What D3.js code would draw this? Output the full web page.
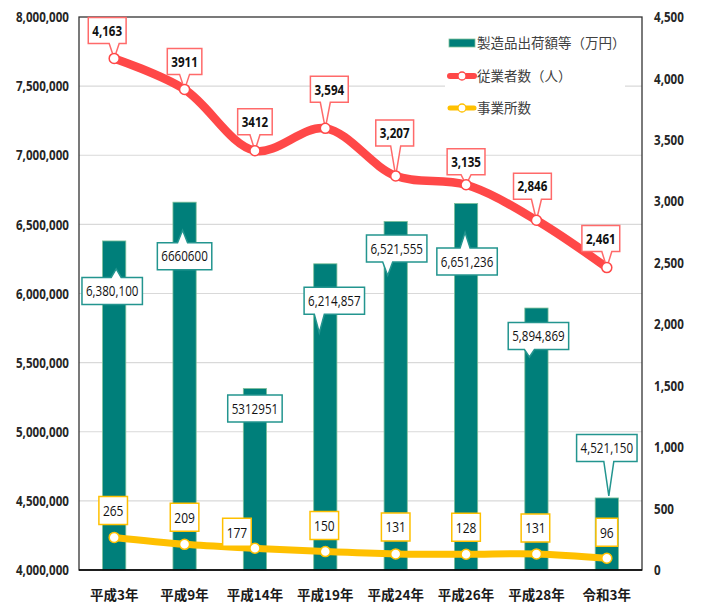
<!DOCTYPE html>
<html>
<head>
<meta charset="utf-8">
<script src="https://cdn.jsdelivr.net/npm/d3@7"></script>
<style>
  body { margin: 0; background: #fff; }
  svg { display: block; }
  .num { font-family: "Liberation Sans Narrow", "Open Sans", "Noto Sans", sans-serif; }
  .jp { font-family: "Noto Sans CJK JP", "Noto Sans CJK SC", sans-serif; }
</style>
</head>
<body>
<svg id="chart" width="711" height="606"></svg>
<script>
// data
const categories = ['平成3年', '平成9年', '平成14年', '平成19年', '平成24年', '平成26年', '平成28年', '令和3年'];
const shipments = [6380100, 6660600, 5312951, 6214857, 6521555, 6651236, 5894869, 4521150];
const shipmentLabels = ['6,380,100', '6660600', '5312951', '6,214,857', '6,521,555', '6,651,236', '5,894,869', '4,521,150'];
const employees = [4163, 3911, 3412, 3594, 3207, 3135, 2846, 2461];
const employeeLabels = ['4,163', '3911', '3412', '3,594', '3,207', '3,135', '2,846', '2,461'];
const establishments = [265, 209, 177, 150, 131, 128, 131, 96];
const leftTicks = d3.range(4000000, 8000001, 500000);
const rightTicks = d3.range(0, 4501, 500);
const seriesNames = ['製造品出荷額等（万円）', '従業者数（人）', '事業所数'];

// callout placement (box centre offset from the data point, then pointer tip offset)
const shipCallout = [[-2, 50, 2, 28], [0, 54, -2, 28], [0, 20, null, null], [9, 37, -6, 69],
                     [1, 27, -8, 54], [1, 58, -1, 29], [2, 28, -7, 49], [0, -50, 2, -2]];
const empCallout = [[-7, -28], [0, -28], [0, -29], [4, -39], [-1, -43], [0, -23], [-4, -34], [-6, -29]];
const estCallout = [[-1, -27], [0, -27], [-18, -16], [-1, -26], [0, -27], [0, -27], [-1, -26], [0, -26]];

const teal = '#007F7A', red = '#FF4848', gold = '#FFC000';
const m = {left: 79, right: 642, top: 17, bottom: 570};

const svg = d3.select('#chart');

// squeeze numbers to look like the narrow office font
function condense(sel, k) {
  sel.each(function () {
    const w = this.getComputedTextLength();
    d3.select(this).attr('textLength', w * k).attr('lengthAdjust', 'spacingAndGlyphs');
  });
}

const x = d3.scaleBand().domain(categories).range([m.left, m.right])
  .paddingInner(0.67).paddingOuter(0.335);
const cx = c => x(c) + x.bandwidth() / 2;
const yL = d3.scaleLinear().domain([4000000, 8000000]).range([m.bottom, m.top]);
const yR = d3.scaleLinear().domain([0, 4500]).range([m.bottom, m.top]);

// gridlines
svg.append('g').selectAll('line').data(leftTicks.slice(1, -1)).join('line')
  .attr('x1', m.left).attr('x2', m.right)
  .attr('y1', d => yL(d)).attr('y2', d => yL(d))
  .attr('stroke', '#D9D9D9').attr('stroke-width', 1.2);

// bars
svg.append('g').selectAll('rect').data(shipments).join('rect')
  .attr('x', (d, i) => x(categories[i]))
  .attr('width', x.bandwidth())
  .attr('y', d => yL(d))
  .attr('height', d => yL(4000000) - yL(d))
  .attr('fill', teal)
  .attr('stroke', '#7FC09A').attr('stroke-width', 0.8);

// legend background (covers the gridline)
const lg = svg.append('g');
lg.append('rect').attr('x', 445).attr('y', 28).attr('width', 180).attr('height', 97).attr('fill', '#fff');

// frame
svg.append('rect').attr('x', m.left).attr('y', m.top)
  .attr('width', m.right - m.left).attr('height', m.bottom - m.top)
  .attr('fill', 'none').attr('stroke', '#333').attr('stroke-width', 1.3);
svg.append('line').attr('x1', m.left).attr('x2', m.right).attr('y1', m.bottom).attr('y2', m.bottom)
  .attr('stroke', '#000').attr('stroke-width', 1.5);

// axes
const axL = svg.append('g').attr('transform', `translate(${m.left},0)`)
  .call(d3.axisLeft(yL).tickValues(leftTicks).tickSize(0).tickPadding(10).tickFormat(d3.format(',')));
const axR = svg.append('g').attr('transform', `translate(${m.right},0)`)
  .call(d3.axisRight(yR).tickValues(rightTicks).tickSize(0).tickPadding(12).tickFormat(d3.format(',')));
const axB = svg.append('g').attr('transform', `translate(0,${m.bottom})`)
  .call(d3.axisBottom(x).tickSize(0).tickPadding(20));
[axL, axR, axB].forEach(a => a.select('.domain').remove());
[axL, axR].forEach(a => a.selectAll('text').attr('class', 'num')
  .style('font-size', '14.5px').style('font-weight', 'bold').attr('fill', '#262626')
  .call(condense, 0.8));
axB.selectAll('text').attr('class', 'jp')
  .style('font-size', '13.5px').style('font-weight', 'bold').attr('fill', '#1a1a1a');

// lines
const line = yS => d3.line().x((d, i) => cx(categories[i])).y(d => yS(d)).curve(d3.curveCatmullRom.alpha(0.5));
svg.append('path').datum(establishments).attr('d', line(yR))
  .attr('fill', 'none').attr('stroke', gold).attr('stroke-width', 7).attr('stroke-linecap', 'round');
svg.append('path').datum(employees).attr('d', line(yR))
  .attr('fill', 'none').attr('stroke', red).attr('stroke-width', 8.5).attr('stroke-linecap', 'round');

// callout helper: box centred at (bx,by), pointer to (tx,ty)
function callout(g, bx, by, txt, opt) {
  const t = g.append('text').attr('class', 'num').text(txt)
    .style('font-size', opt.size).style('font-weight', opt.weight).attr('fill', '#111')
    .attr('x', bx).attr('y', by).attr('text-anchor', 'middle').attr('dy', '0.36em');
  const tw = t.node().getComputedTextLength() * 0.8;
  t.attr('textLength', tw).attr('lengthAdjust', 'spacingAndGlyphs');
  const w = tw + opt.pad * 2, h = opt.h;
  const l = bx - w / 2, r = bx + w / 2, top = by - h / 2, bot = by + h / 2;
  let p;
  if (opt.tx == null) {
    p = `M${l},${top}H${r}V${bot}H${l}Z`;
  } else {
    const c = Math.max(l + 6, Math.min(r - 6, opt.tx));
    if (opt.ty > by) {
      p = `M${l},${top}H${r}V${bot}H${c + 5}L${opt.tx},${opt.ty}L${c - 5},${bot}H${l}Z`;
    } else {
      p = `M${l},${top}H${c - 5}L${opt.tx},${opt.ty}L${c + 5},${top}H${r}V${bot}H${l}Z`;
    }
  }
  g.insert('path', 'text').attr('d', p).attr('fill', '#fff')
    .attr('stroke', opt.stroke).attr('stroke-width', 1.5);
}

const labels = svg.append('g');
shipments.forEach((v, i) => {
  const px = cx(categories[i]), py = yL(v), o = shipCallout[i];
  const g = labels.append('g');
  callout(g, px + o[0], py + o[1], shipmentLabels[i], {size: '14.5px', weight: 'normal', pad: 4, h: 27,
    stroke: '#23958F', tx: o[2] == null ? null : px + o[2], ty: o[3] == null ? null : py + o[3]});
});
employees.forEach((v, i) => {
  const px = cx(categories[i]), py = yR(v), o = empCallout[i];
  const g = labels.append('g');
  callout(g, px + o[0], py + o[1], employeeLabels[i], {size: '14.5px', weight: 'bold', pad: 4, h: 26,
    stroke: '#FF6A6A', tx: px, ty: py});
});
establishments.forEach((v, i) => {
  const px = cx(categories[i]), py = yR(v), o = estCallout[i];
  const g = labels.append('g');
  callout(g, px + o[0], py + o[1], String(v), {size: '15px', weight: 'normal', pad: 4, h: 28,
    stroke: gold, tx: null, ty: null});
});

// markers
svg.append('g').selectAll('circle').data(establishments).join('circle')
  .attr('cx', (d, i) => cx(categories[i])).attr('cy', d => yR(d)).attr('r', 5)
  .attr('fill', '#fff').attr('stroke', gold).attr('stroke-width', 1.5);
svg.append('g').selectAll('circle').data(employees).join('circle')
  .attr('cx', (d, i) => cx(categories[i])).attr('cy', d => yR(d)).attr('r', 5)
  .attr('fill', '#fff').attr('stroke', red).attr('stroke-width', 1.5);

// legend items
const legY = [43, 76, 108];
seriesNames.forEach((name, i) => {
  const gy = legY[i];
  if (i === 0) {
    lg.append('rect').attr('x', 449).attr('y', gy - 4).attr('width', 26).attr('height', 8)
      .attr('fill', teal).attr('stroke', '#7FC09A').attr('stroke-width', 0.8);
  } else {
    const col = i === 1 ? red : gold;
    lg.append('line').attr('x1', 450).attr('x2', 474).attr('y1', gy).attr('y2', gy)
      .attr('stroke', col).attr('stroke-width', i === 1 ? 6 : 5).attr('stroke-linecap', 'round');
    lg.append('circle').attr('cx', 462).attr('cy', gy).attr('r', 4)
      .attr('fill', '#fff').attr('stroke', col).attr('stroke-width', 1.3);
  }
  lg.append('text').attr('class', 'jp').attr('x', 477).attr('y', gy).attr('dy', '0.36em')
    .style('font-size', '13.5px').attr('fill', '#404040').text(name);
});
</script>
</body>
</html>
